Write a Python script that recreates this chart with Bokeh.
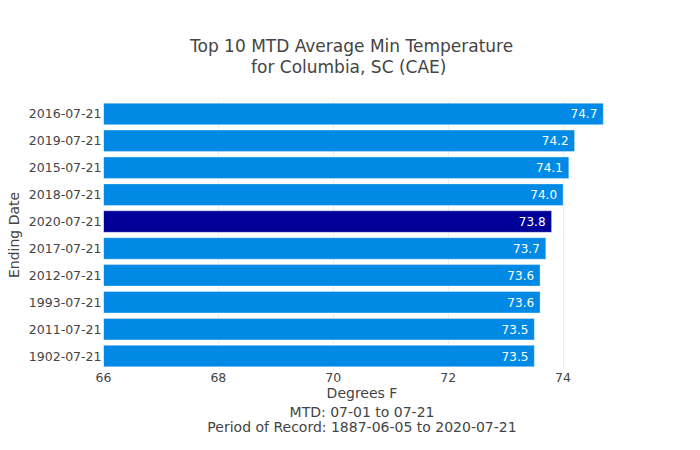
from bokeh.plotting import figure
from bokeh.models import ColumnDataSource, FactorRange, Range1d, FixedTicker, Title
from bokeh.core.properties import value
from bokeh.embed import file_html
from bokeh.resources import INLINE

dates = ["2016-07-21", "2019-07-21", "2015-07-21", "2018-07-21", "2020-07-21",
         "2017-07-21", "2012-07-21", "1993-07-21", "2011-07-21", "1902-07-21"]
temps = [74.7, 74.2, 74.1, 74.0, 73.8, 73.7, 73.6, 73.6, 73.5, 73.5]
highlight = "2020-07-21"
x_ticks = [66, 68, 70, 72, 74]

title_lines = ["Top 10 MTD Average Min Temperature", "for Columbia, SC (CAE)"]
x_title = "Degrees F"
x_sub_lines = ["MTD: 07-01 to 07-21", "Period of Record: 1887-06-05 to 2020-07-21"]
y_title = "Ending Date"

FONT = "DejaVu Sans"
TXT = "#444444"
LIGHT = "#008ae6"
DARK = "#000099"

colors = [DARK if d == highlight else LIGHT for d in dates]
labels = ["%.1f" % t for t in temps]
src = ColumnDataSource(dict(date=dates, temp=temps, color=colors, label=labels))

W, H = 684, 434
p = figure(width=W, height=H, output_backend="svg", toolbar_location=None,
           y_range=FactorRange(factors=list(reversed(dates)), range_padding=0),
           x_range=Range1d(66, 75),
           min_border_left=103, min_border_right=64, min_border_top=100, min_border_bottom=64)
p.title_location = None
p.outline_line_color = None
p.background_fill_color = "white"
p.border_fill_color = "white"

p.hbar(y="date", left=66, right="temp", height=0.8, fill_color="color",
       line_color="white", line_alpha=0.35, line_width=1, source=src)

p.text(x="temp", y="date", text="label", source=src, text_align="right",
       text_baseline="middle", x_offset=-6, text_color="white",
       text_font=value(FONT), text_font_size="12px")

p.xaxis.ticker = FixedTicker(ticks=x_ticks)
for ax in (p.xaxis[0], p.yaxis[0]):
    ax.axis_line_color = None
    ax.major_tick_line_color = None
    ax.minor_tick_line_color = None
    ax.major_tick_out = 0
    ax.major_tick_in = 0
    ax.major_label_text_font = FONT
    ax.major_label_text_font_size = "12.5px"
    ax.major_label_text_color = TXT
    ax.axis_label_text_font = FONT
    ax.axis_label_text_font_size = "14px"
    ax.axis_label_text_font_style = "normal"
    ax.axis_label_text_color = TXT
p.xaxis.major_label_standoff = 3
p.yaxis.major_label_standoff = 2
p.yaxis.axis_label = y_title
p.yaxis.axis_label_standoff = 4
p.xaxis.axis_label = x_title
p.xaxis.axis_label_standoff = 0

p.xgrid.grid_line_color = "#eeeeee"
p.xgrid.grid_line_width = 1
p.ygrid.grid_line_color = None

def mk_title(text, size, **kw):
    kw.setdefault("text_color", TXT)
    return Title(text=text, text_font=FONT, text_font_size=size, text_font_style="normal", **kw)

# above panels: first added sits nearest the frame (first one is an invisible spacer)
p.add_layout(mk_title(".", "10px", standoff=13, text_color="white"), "above")
p.add_layout(mk_title(title_lines[1], "17px", align="left", offset=147.5,
                      vertical_align="middle", standoff=-1), "above")
p.add_layout(mk_title(title_lines[0], "17px", align="left", offset=86.5,
                      vertical_align="middle", standoff=0), "above")

# below panels: stacked under the x axis
p.add_layout(mk_title(x_sub_lines[0], "14px", align="center", vertical_align="middle",
                      standoff=-2.5), "below")
p.add_layout(mk_title(x_sub_lines[1], "14px", align="center", vertical_align="middle",
                      standoff=-3), "below")

open("out.html", "w").write(file_html(p, INLINE))
